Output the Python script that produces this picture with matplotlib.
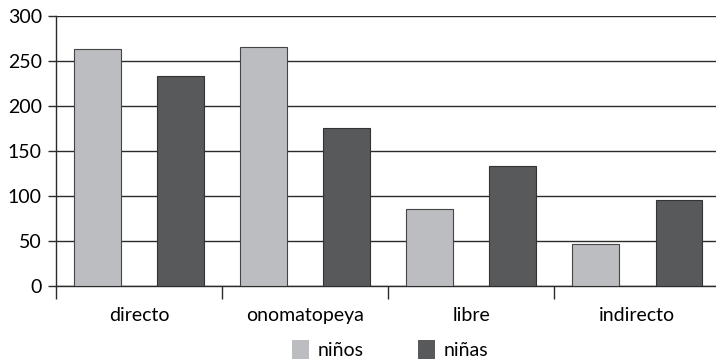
import matplotlib.pyplot as plt
from matplotlib.patches import Patch
import numpy as np

plt.rcParams['font.family'] = ['Lato', 'DejaVu Sans']

categories = ['directo', 'onomatopeya', 'libre', 'indirecto']
ninos = [263, 266, 86, 47]
ninas = [234, 176, 133, 96]
series_labels = ['niños', 'niñas']

light = '#bcbdc1'
dark = '#58595b'
line_col = '#2b2b2b'

fig = plt.figure(figsize=(7.16, 3.59), dpi=100)
# the plot area runs a little past the right edge of the figure
ax = fig.add_axes([0.078, 0.203, 0.928, 0.752])

x = np.arange(len(categories))
bw = 0.28
ax.bar(x + 0.25, ninos, width=bw, color=light, edgecolor='#444444', linewidth=0.8, zorder=3)
ax.bar(x + 0.75, ninas, width=bw, color=dark, edgecolor='#333333', linewidth=0.8, zorder=3)

ax.set_xlim(0, len(categories))
ax.set_ylim(0, 300)
ax.set_yticks(range(0, 301, 50))
ax.yaxis.grid(True, color=line_col, linewidth=1.0, zorder=0)
ax.set_axisbelow(True)

# category borders as major ticks, names centred as minor ticks
ax.set_xticks(np.arange(len(categories) + 1))
ax.set_xticklabels([])
ax.set_xticks(x + 0.5, minor=True)
ax.set_xticklabels(categories, minor=True)
ax.tick_params(axis='x', which='major', length=9, width=1, color=line_col, direction='out')
ax.tick_params(axis='x', which='minor', length=0, pad=15, labelsize=14)
ax.tick_params(axis='y', length=6, width=1, color=line_col, labelsize=14, pad=4)

for s in ['top', 'right']:
    ax.spines[s].set_visible(False)
for s in ['left', 'bottom']:
    ax.spines[s].set_color(line_col)
    ax.spines[s].set_linewidth(1.0)

handles = [Patch(facecolor=light, edgecolor='none'), Patch(facecolor=dark, edgecolor='none')]
fig.legend(handles, series_labels, loc='center', bbox_to_anchor=(0.545, 0.027),
           ncol=2, frameon=False, fontsize=14, handlelength=0.85, handleheight=1.1,
           handletextpad=0.45, columnspacing=2.8, borderpad=0.0)

fig.savefig('out.png', dpi=100)
